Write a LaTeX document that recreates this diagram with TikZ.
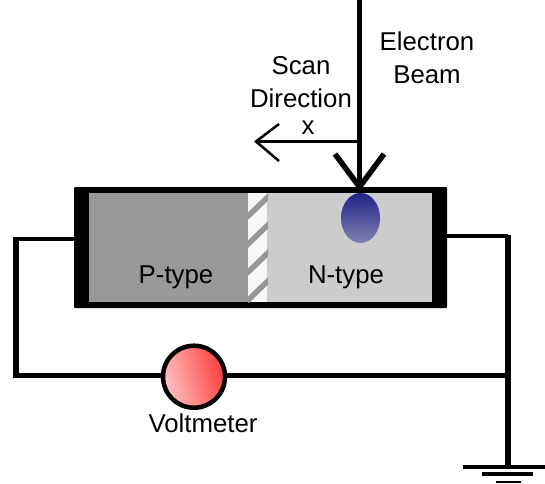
\documentclass[tikz,border=0pt]{standalone}
\usepackage{fontspec}
\setmainfont{Liberation Sans}
\usetikzlibrary{shapes.geometric}
\definecolor{ptype}{RGB}{153,153,153}
\definecolor{ntype}{RGB}{204,204,204}
\definecolor{stripe}{RGB}{150,150,150}
\definecolor{spottop}{RGB}{34,34,136}
\definecolor{spotbot}{RGB}{128,128,178}
\definecolor{redL}{RGB}{255,60,60}
\definecolor{redM}{RGB}{255,95,95}
\definecolor{redR}{RGB}{255,195,195}
\tikzset{
  lbl/.style={font=\fontsize{25.8}{30}\selectfont,inner sep=0pt,text=black,align=center},
  wirethin/.style={line width=3.5pt,black},
  wirethick/.style={line width=5.5pt,black},
  beam/.style={line width=5.5pt,black},
  scanline/.style={line width=3pt,black},
  gnd/.style={line width=3.5pt,black},
}
\begin{document}
\begin{tikzpicture}[x=1pt,y=-1pt]
\useasboundingbox (0,0) rectangle (545,483);
% device body
\fill[black,rounded corners=1pt] (74,187) rectangle (447,308);
\fill[ptype] (89,193) rectangle (248,302);
\fill[ntype] (248,193) rectangle (432,302);
\fill[white!97!black] (248,193) rectangle (267,302);
\begin{scope}
\clip (248,193) rectangle (268,302);
\foreach \yy in {216,244,272,300}
  \draw[stripe,line width=5.5pt] (246,\yy+2) -- (270,\yy-21);
\end{scope}
\node[ellipse,minimum width=39pt,minimum height=50pt,inner sep=0pt,draw=none,top color=spottop,bottom color=spotbot] (spot) at (360.5,218) {};
% coordinates
\coordinate (beamtop) at (359.5,0);
\coordinate (beamtip) at (359.5,187);
\coordinate (beamL) at (335,154);
\coordinate (beamR) at (384,154);
\coordinate (scanstart) at (358,141.5);
\coordinate (scanend) at (256,141.5);
\coordinate (scanU) at (279,124);
\coordinate (scanD) at (279,161);
\coordinate (leftpad) at (74,239);
\coordinate (leftcorner) at (16,239);
\coordinate (botleft) at (16,375.6);
\coordinate (botright) at (508,375.6);
\coordinate (rightpad) at (447,236);
\coordinate (rightcorner) at (508,236);
\coordinate (gndtop) at (508,467);
\coordinate (g1a) at (463,467);
\coordinate (g1b) at (545,467);
\coordinate (g2a) at (482,474);
\coordinate (g2b) at (533,474);
\coordinate (g3a) at (496,482);
\coordinate (g3b) at (521,482);
% beam
\draw[beam] (beamtop) -- (beamtip);
\draw[beam,line join=miter] (beamL) -- (beamtip) -- (beamR);
% scan arrow
\draw[scanline] (scanstart) -- (scanend);
\draw[line width=2.5pt,black] (scanU) -- (scanend) -- (scanD);
% wires
\draw[wirethin] (leftpad) -- (14,239);
\draw[wirethick,line join=miter] (16,236.5) -- (botleft) -- (botright);
\draw[wirethin] (rightpad) -- (rightcorner);
\draw[line width=5.5pt,black] (508,234.5) -- (gndtop);
\draw[gnd] (g1a) -- (g1b);
\draw[gnd] (g2a) -- (g2b);
\draw[line width=2.5pt,black] (g3a) -- (g3b);
% voltmeter
\node[circle,minimum size=62pt,inner sep=0pt,line width=4.5pt,draw=black,shading=axis,left color=redL,middle color=redM,right color=redR,shading angle=-75] (vm) at (194,376.7) {};
% labels
\node[lbl] (electron) at (427,41.5) {Electron};
\node[lbl] (beamlbl) at (427,74.5) {Beam};
\node[lbl] (scan) at (301,65.5) {Scan};
\node[lbl] (direction) at (301,98.5) {Direction};
\node[lbl] (xlbl) at (308,128) {x};
\node[lbl] (ptypelbl) at (176,277) {P-type};
\node[lbl] (ntypelbl) at (346,277) {N-type};
\node[lbl] (vmlbl) at (203,423) {Voltmeter};
\end{tikzpicture}
\end{document}
